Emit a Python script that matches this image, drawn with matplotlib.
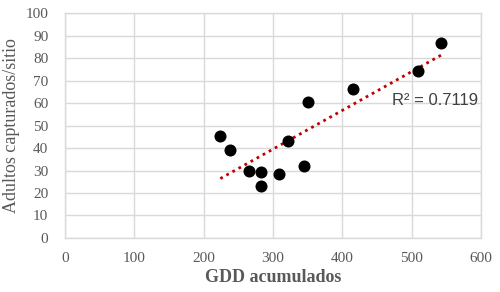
import matplotlib
matplotlib.use("Agg")
import matplotlib.pyplot as plt
import numpy as np

gdd = [224, 238, 265, 283, 283, 309, 321, 345, 350, 415, 509, 543]
adultos = [45.2, 39.1, 29.8, 29.5, 23.1, 28.3, 43.2, 31.9, 60.6, 66.4, 74.2, 86.5]
r2_label = "R² = 0.7119"
x_ticks = [0, 100, 200, 300, 400, 500, 600]
y_ticks = list(range(0, 101, 10))

fig = plt.figure(figsize=(5.0, 2.92), dpi=100)
ax = fig.add_axes([0.13, 0.185, 0.832, 0.77])

ax.set_xlim(0, 600)
ax.set_ylim(0, 100)
ax.set_xticks(x_ticks)
ax.set_yticks(y_ticks)
ax.grid(True, color="#d9d9d9", linewidth=1.0)
ax.set_axisbelow(True)
for s in ax.spines.values():
    s.set_color("#d9d9d9")
    s.set_linewidth(1.0)
ax.tick_params(axis="x", length=0, labelsize=11, colors="#595959", pad=10)
ax.tick_params(axis="y", length=0, labelsize=11, colors="#595959", pad=12)
for lab in ax.get_xticklabels() + ax.get_yticklabels():
    lab.set_family("Liberation Serif")

ax.scatter(gdd, adultos, s=75, color="black", zorder=3, linewidths=0)

x = np.array(gdd, dtype=float)
y = np.array(adultos, dtype=float)
m, b = np.polyfit(x, y, 1)
xl = np.array([x.min(), x.max()])
ax.plot(xl, m * xl + b, color="#c00000", linestyle=(0, (1, 1.5)), linewidth=2, zorder=2)

ax.text(471, 61.3, r2_label, fontsize=12, family="Liberation Sans", color="#404040", va="center", ha="left")

ax.set_xlabel("GDD acumulados", family="Liberation Serif", fontsize=13, fontweight="bold", color="#595959", labelpad=3)
ax.set_ylabel("Adultos capturados/sitio", family="Liberation Serif", fontsize=13, color="#595959", labelpad=4)

fig.savefig("out.png", dpi=100)
